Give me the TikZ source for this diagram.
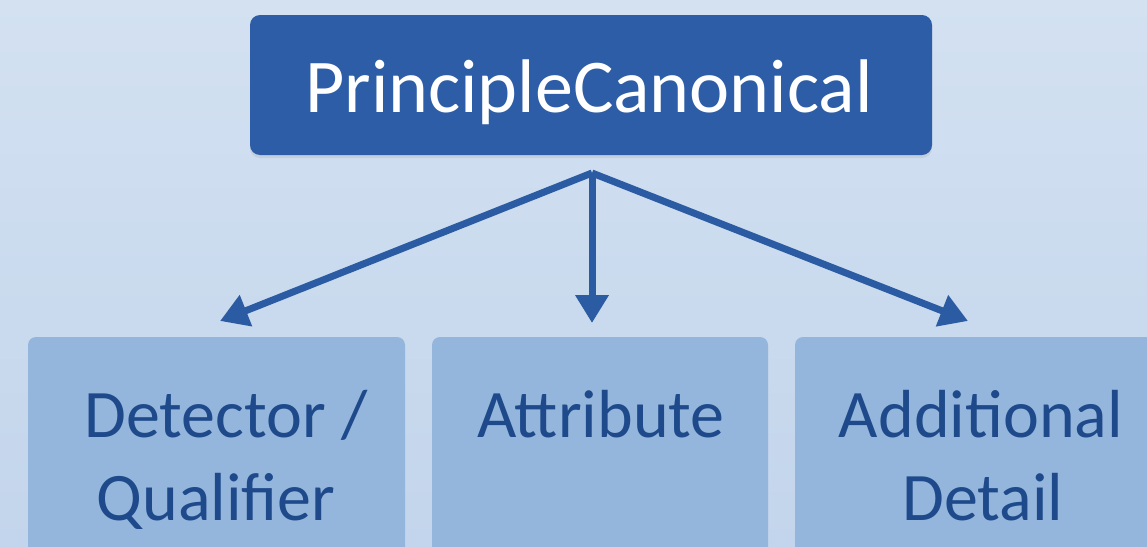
\documentclass[tikz,border=0pt]{standalone}
\usepackage{fontspec}
\setmainfont{Carlito}
\usetikzlibrary{arrows.meta,shadows}
\definecolor{bgtop}{HTML}{D3E1F1}
\definecolor{bgbot}{HTML}{C3D5EC}
\definecolor{topfill}{HTML}{2D5DA6}
\definecolor{arrowcol}{HTML}{2B5CA3}
\definecolor{boxfill}{HTML}{95B6DC}
\definecolor{boxtext}{HTML}{1E4A8B}
\tikzset{
  topbox/.style={fill=topfill, rounded corners=10pt, draw=none, inner sep=0pt,
    drop shadow={shadow xshift=0pt, shadow yshift=-3pt, opacity=0.15}},
  leafbox/.style={fill=boxfill, rounded corners=8pt, draw=none, inner sep=0pt},
  toptext/.style={text=white, font=\fontsize{76}{80}\selectfont, inner sep=0pt, anchor=base},
  leaftext/.style={text=boxtext, font=\fontsize{68}{83}\selectfont, inner sep=0pt, anchor=base},
  arr/.style={draw=arrowcol, line width=7pt, line join=round, -{Triangle[length=28pt,width=32pt]}}
}
\begin{document}
\begin{tikzpicture}[x=1pt,y=-1pt]
\useasboundingbox (0,0) rectangle (1147,546);
\shade[top color=bgtop, bottom color=bgbot] (0,0) rectangle (1147,546);
% top box
\node[topbox, minimum width=682pt, minimum height=140pt] (top) at (591,85) {};
\node[toptext] (ttop) at (589,112) {PrincipleCanonical};
% leaf boxes (run past the lower edge)
\begin{scope}
\clip (0,0) rectangle (1147,546);
\node[leafbox, minimum width=377pt, minimum height=260pt] (b1) at (216.5,467) {};
\node[leafbox, minimum width=336pt, minimum height=260pt] (b2) at (600,467) {};
\node[leafbox, minimum width=372pt, minimum height=260pt] (b3) at (981,467) {};
\end{scope}
\node[leaftext] (t1a) at (226,437) {Detector /};
\node[leaftext] (t1b) at (216,520) {Qualifier};
\node[leaftext] (t2) at (601,437) {Attribute};
\node[leaftext] (t3a) at (981,437) {Additional};
\node[leaftext] (t3b) at (983,520) {Detail};
% connectors
\coordinate (fork) at (592,173);
\coordinate (tipL) at (220,321);
\coordinate (tipM) at (592,323);
\coordinate (tipR) at (968,321);
\draw[arr] (fork) -- (tipL);
\draw[arr] (fork) -- (tipM);
\draw[arr] (fork) -- (tipR);
\end{tikzpicture}
\end{document}
